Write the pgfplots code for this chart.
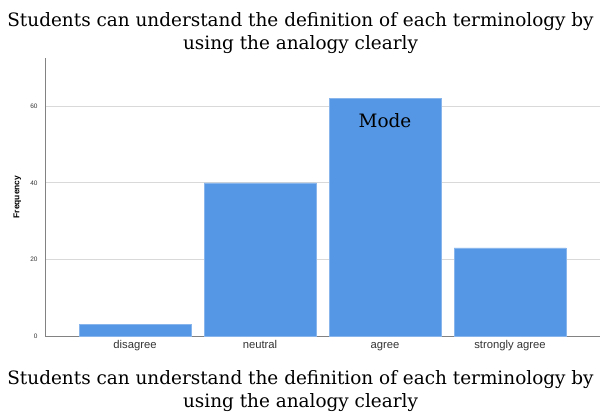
\documentclass[border=0pt]{standalone}
\usepackage{fontspec}
\setmainfont{Liberation Serif}
\setsansfont{Liberation Sans}
\newfontfamily\titlefont{DejaVu Serif}
\usepackage{pgfplots}
\pgfplotsset{compat=1.18}
\definecolor{barblue}{RGB}{85,151,228}
\definecolor{gridgray}{RGB}{217,217,217}
\definecolor{axisgray}{RGB}{130,130,130}
\begin{document}
\begin{tikzpicture}
\useasboundingbox (-45bp,-78bp) rectangle (556bp,336bp);
\begin{axis}[
  at={(0,0)}, anchor=south west,
  scale only axis, width=555bp, height=278bp,
  xmin=-0.72, xmax=3.72, ymin=0, ymax=72.6,
  ybar, bar width=0.896, bar shift=0pt,
  axis x line*=bottom, axis y line*=left,
  axis line style={axisgray, line width=0.8pt},
  x axis line style={-}, y axis line style={-},
  xtick={0,1,2,3},
  xticklabels={disagree,neutral,agree,strongly agree},
  ytick={0,20,40,60},
  ymajorgrids, grid style={gridgray, line width=0.8pt},
  major tick length=0pt,
  tick style={draw=none},
  /pgf/number format/assume math mode=true,
  xticklabel style={font=\sffamily\fontsize{11.3}{13}\selectfont, text=black!80, yshift=-2bp, text height=1.6ex, text depth=0.4ex},
  yticklabel style={font=\sffamily\fontsize{6.5}{8}\selectfont, text=black!80, xshift=-4bp},
  ylabel={Frequency},
  ylabel style={font=\sffamily\bfseries\fontsize{8.5}{10}\selectfont, at={(axis description cs:-0.05,0.5)}, anchor=center},
  clip=false,
]
\addplot[fill=barblue, draw=barblue!70!white, line width=0.5pt] coordinates {(0,3) (1,40) (2,62) (3,23)};
\node[font=\titlefont\fontsize{18.5}{23}\selectfont] at (axis cs:2,56.3) {Mode};
\end{axis}
\node[align=center, font=\titlefont\fontsize{18.5}{23}\selectfont] at (255.5bp,302.5bp) {Students can understand the definition of each terminology by\\using the analogy clearly};
\node[align=center, font=\titlefont\fontsize{18.5}{23}\selectfont] at (255.5bp,-55.5bp) {Students can understand the definition of each terminology by\\using the analogy clearly};
\end{tikzpicture}
\end{document}
